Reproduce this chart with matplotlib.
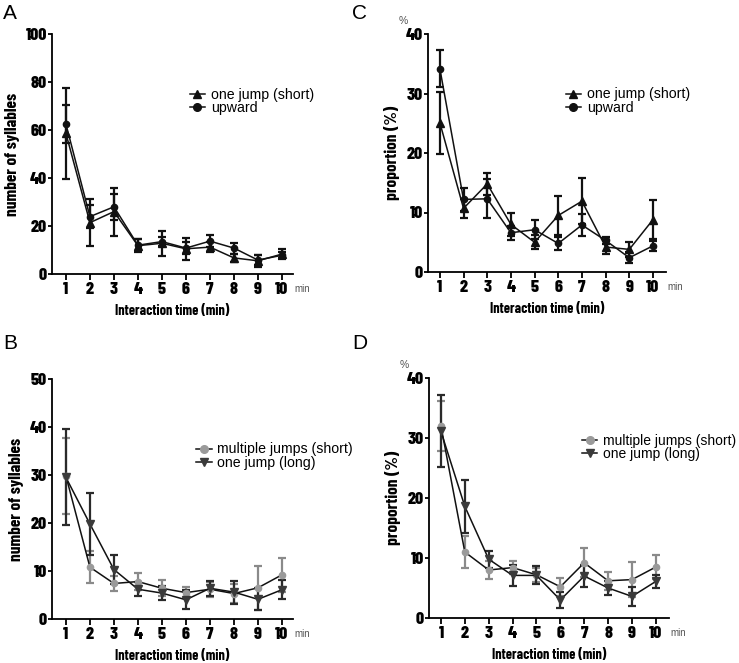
import matplotlib
matplotlib.use("Agg")
import matplotlib.pyplot as plt
from matplotlib.lines import Line2D

plt.rcParams['font.family'] = ['Barlow Condensed', 'DejaVu Sans']
SANS = ['Liberation Sans', 'DejaVu Sans']

minutes = [1, 2, 3, 4, 5, 6, 7, 8, 9, 10]

# A: number of syllables
a_tri = [58.6, 21.4, 26.0, 11.8, 12.8, 10.5, 11.2, 6.7, 5.5, 8.3]
a_tri_err = [19.0, 9.7, 10.0, 2.7, 5.3, 4.5, 2.0, 1.8, 2.5, 2.0]
a_circ = [62.5, 23.9, 28.0, 12.0, 13.5, 10.8, 13.7, 10.8, 5.8, 7.8]
a_circ_err = [7.8, 4.9, 5.5, 2.5, 2.0, 2.5, 2.5, 2.3, 2.0, 1.2]

# C: proportion (%)
c_tri = [25.1, 10.7, 14.8, 8.0, 5.0, 9.5, 11.9, 4.2, 3.8, 8.8]
c_tri_err = [5.2, 1.6, 1.9, 1.9, 1.2, 3.3, 3.9, 1.2, 1.3, 3.3]
c_circ = [34.2, 12.2, 12.3, 6.6, 7.1, 4.8, 7.9, 5.3, 2.4, 4.4]
c_circ_err = [3.1, 2.0, 3.3, 1.2, 1.6, 1.1, 1.9, 0.6, 0.9, 0.8]

# B: number of syllables
b_multi = [29.8, 10.8, 7.4, 7.8, 6.4, 5.5, 6.2, 5.3, 6.5, 9.2]
b_multi_err = [8.0, 3.4, 1.5, 1.8, 1.7, 1.2, 1.6, 2.0, 4.6, 3.6]
b_long = [29.5, 19.8, 10.3, 6.2, 5.4, 4.0, 6.4, 5.6, 4.1, 6.1]
b_long_err = [10.0, 6.5, 3.1, 1.5, 1.4, 2.0, 1.6, 2.4, 2.3, 2.0]

# D: proportion (%)
d_multi = [32.0, 11.0, 8.0, 8.4, 7.2, 5.2, 9.2, 6.2, 6.4, 8.5]
d_multi_err = [4.1, 2.6, 1.5, 1.1, 1.2, 1.5, 2.4, 1.5, 2.9, 2.0]
d_long = [31.1, 18.6, 9.8, 7.1, 7.1, 3.0, 7.0, 5.0, 3.6, 6.1]
d_long_err = [6.0, 4.4, 1.4, 1.8, 1.5, 1.4, 1.8, 1.1, 1.6, 1.1]

W, H = 739, 663
fig = plt.figure(figsize=(W / 100, H / 100), dpi=100)


def px_axes(left, top, right, bottom):
    return fig.add_axes([left / W, 1 - bottom / H, (right - left) / W, (bottom - top) / H])


def style_axes(ax, ymax, ystep, ylabel, xlim, pct=False):
    ax.set_xlim(*xlim)
    ax.set_ylim(0, ymax)
    ax.set_yticks(range(0, ymax + 1, ystep))
    ax.set_xticks(minutes)
    for s in ['top', 'right']:
        ax.spines[s].set_visible(False)
    for s in ['left', 'bottom']:
        ax.spines[s].set_linewidth(1.3)
    ax.tick_params(axis='y', direction='out', length=3, width=1.3, labelsize=12.8, pad=0.5)
    ax.tick_params(axis='x', direction='out', length=4, width=1.3, labelsize=12.8, pad=2)
    for lab in ax.get_xticklabels() + ax.get_yticklabels():
        lab.set_fontweight(800)
    ax.set_ylabel(ylabel, fontsize=12.5, fontweight=700, labelpad=4)
    ax.set_xlabel('Interaction time (min)', fontsize=10.3, fontweight=700, labelpad=4.5)
    ax.annotate('min', xy=(1, 0), xycoords='axes fraction', xytext=(1, -11),
                textcoords='offset points', fontsize=7, color='#555555',
                family=SANS, ha='left', va='center')
    if pct:
        ax.annotate('%', xy=(0, 1), xycoords='axes fraction', xytext=(-18, 9),
                    textcoords='offset points', fontsize=7.5, color='#555555',
                    family=SANS, ha='center', va='center')


def series(ax, y, err, marker, mcolor, ecolor, ms=5.5):
    ax.errorbar(minutes, y, yerr=err, color='#111111', lw=1.1, marker=marker,
                ms=ms, mfc=mcolor, mec=mcolor, ecolor=ecolor, elinewidth=1.6,
                capsize=3, capthick=1.6, zorder=3)


def legend(ax, labels, markers, colors, loc, size=10.2):
    handles = [Line2D([0], [0], color='#111111', lw=1.1, marker=m, ms=5.5,
                      mfc=c, mec=c) for m, c in zip(markers, colors)]
    ax.legend(handles, labels, loc='upper left', bbox_to_anchor=loc,
              frameon=False, handlelength=1.1, handletextpad=0.4,
              labelspacing=-0.05, borderpad=0,
              prop={'family': SANS, 'size': size})


# Panel A
axA = px_axes(52, 34, 293, 274)
series(axA, a_tri, a_tri_err, '^', '#111111', '#111111')
series(axA, a_circ, a_circ_err, 'o', '#111111', '#111111', ms=4.5)
style_axes(axA, 100, 20, 'number of syllables', (0.42, 10.46))
legend(axA, ['one jump (short)', 'upward'], ['^', 'o'], ['#111111', '#111111'],
       (0.542, 0.805))

# Panel C
axC = px_axes(428, 34, 666, 272)
series(axC, c_tri, c_tri_err, '^', '#111111', '#111111')
series(axC, c_circ, c_circ_err, 'o', '#111111', '#111111', ms=4.5)
style_axes(axC, 40, 10, 'proportion (%)', (0.5, 10.55), pct=True)
legend(axC, ['one jump (short)', 'upward'], ['^', 'o'], ['#111111', '#111111'],
       (0.548, 0.805))

# Panel B
axB = px_axes(52, 379, 293, 619)
series(axB, b_multi, b_multi_err, 'o', '#9a9a9a', '#8a8a8a', ms=4.5)
series(axB, b_long, b_long_err, 'v', '#3a3a3a', '#2a2a2a')
style_axes(axB, 50, 10, 'number of syllables', (0.42, 10.46))
legend(axB, ['multiple jumps (short)', 'one jump (long)'], ['o', 'v'],
       ['#9a9a9a', '#3a3a3a'], (0.568, 0.765))

# Panel D
axD = px_axes(429, 378, 669, 618)
series(axD, d_multi, d_multi_err, 'o', '#9a9a9a', '#8a8a8a', ms=4.5)
series(axD, d_long, d_long_err, 'v', '#3a3a3a', '#2a2a2a')
style_axes(axD, 40, 10, 'proportion (%)', (0.5, 10.55), pct=True)
legend(axD, ['multiple jumps (short)', 'one jump (long)'], ['o', 'v'],
       ['#9a9a9a', '#3a3a3a'], (0.608, 0.796), size=10.0)

for letter, x, y in [('A', 3, 4), ('C', 352, 4), ('B', 3, 334), ('D', 352, 334)]:
    fig.text(x / W, 1 - y / H, letter, fontsize=15, va='top', ha='left', family=SANS)

fig.savefig('out.png', dpi=100)
